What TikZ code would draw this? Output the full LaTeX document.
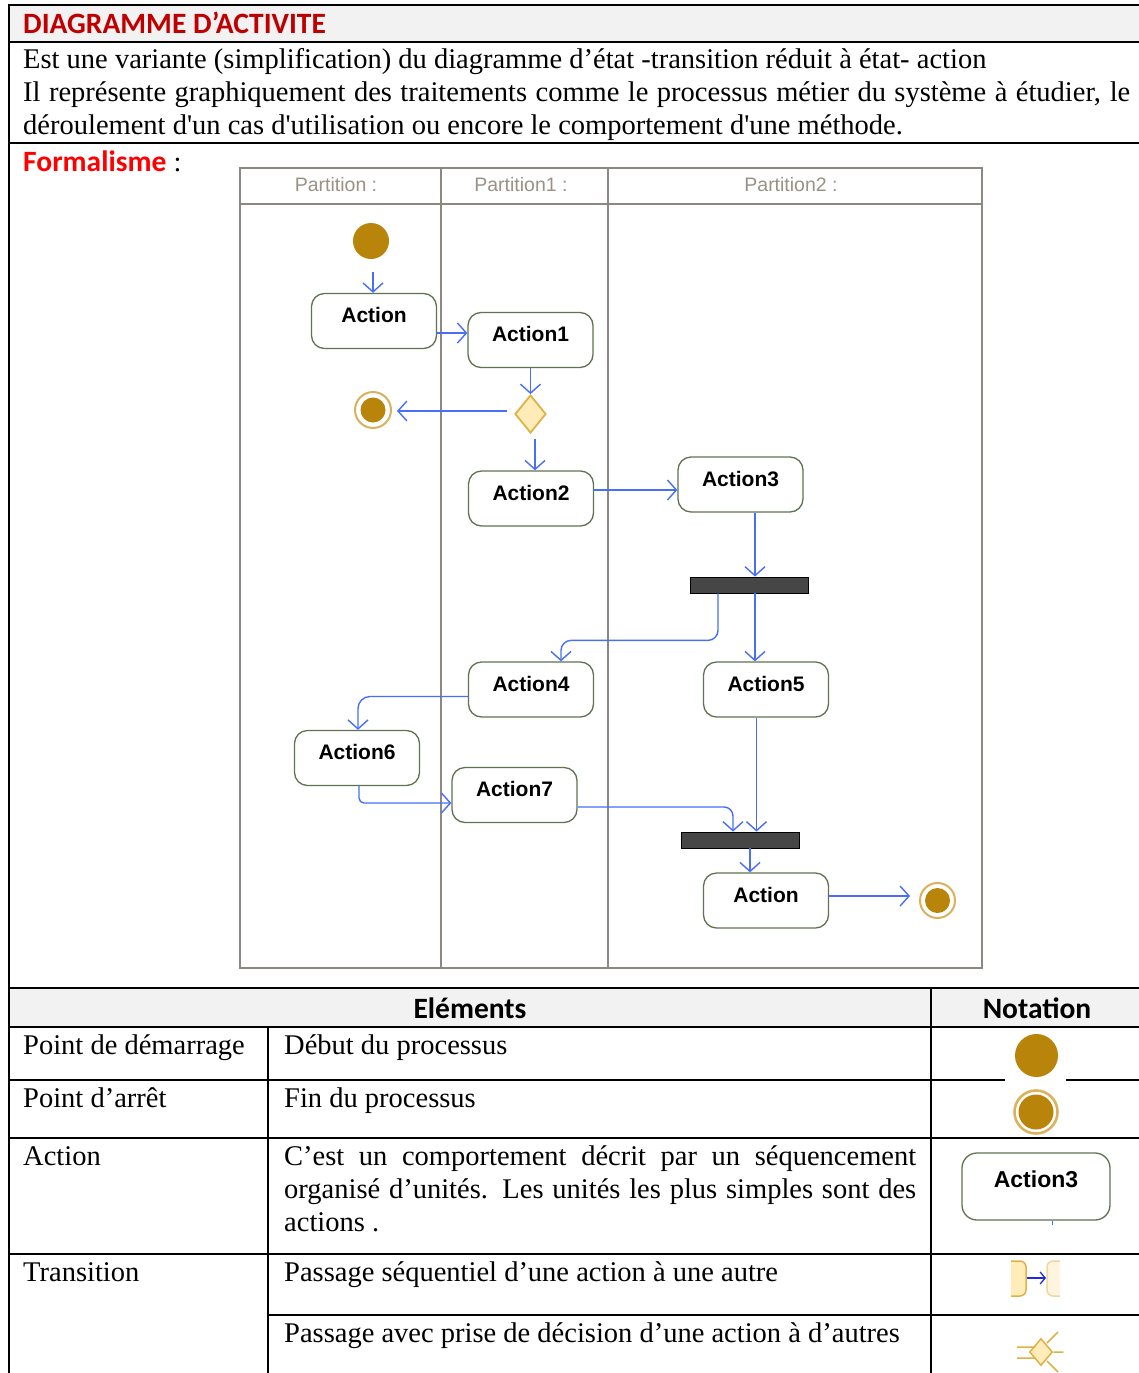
\documentclass[tikz,border=0pt]{standalone}
\usepackage{fontspec}
\setmainfont{Liberation Serif}
\newfontfamily\calibri{Carlito}
\newfontfamily\umlfont{Liberation Sans}
\usetikzlibrary{positioning,shapes.geometric,arrows.meta}

\definecolor{titlered}{RGB}{192,0,0}
\definecolor{formred}{RGB}{255,0,0}
\definecolor{rowgray}{RGB}{242,242,242}
\definecolor{flowblue}{RGB}{72,110,250}
\definecolor{darkblue}{RGB}{30,40,235}
\definecolor{boxgreen}{RGB}{95,115,80}
\definecolor{startgold}{RGB}{185,132,10}
\definecolor{ringgold}{RGB}{218,178,95}
\definecolor{diafill}{RGB}{255,236,185}
\definecolor{diaedge}{RGB}{222,178,70}
\definecolor{palefill}{RGB}{255,245,222}
\definecolor{paleedge}{RGB}{240,215,160}
\definecolor{lanegray}{RGB}{140,135,128}
\definecolor{lanetext}{RGB}{155,145,132}
\definecolor{barfill}{RGB}{70,70,70}

\begin{document}
\begin{tikzpicture}[x=1pt,y=-1pt,
  body/.style={anchor=base west, inner sep=0pt, font=\fontsize{28.5}{33}\selectfont},
  heading/.style={inner sep=0pt, font=\calibri\bfseries\fontsize{29.5}{33}\selectfont},
  gridline/.style={line width=2pt},
  thinline/.style={line width=1.3pt},
  lane/.style={draw=lanegray, line width=1.5pt},
  lanelabel/.style={text=lanetext, font=\umlfont\fontsize{19.5}{20}\selectfont},
  action/.style={draw=boxgreen, line width=1.3pt, rounded corners=13pt, fill=white,
    minimum width=125pt, minimum height=55pt, inner sep=0pt,
    font=\umlfont\bfseries\fontsize{21}{22}\selectfont,
    text height=15pt, text depth=12pt},
  startnode/.style={circle, fill=startgold, minimum size=#1, inner sep=0pt},
  startnode/.default=36pt,
  endnode/.style 2 args={circle, draw=ringgold, line width=2pt, fill=white,
    minimum size=#1, inner sep=0pt,
    path picture={\fill[startgold] (path picture bounding box.center) circle (#2);}},
  decision/.style={diamond, draw=diaedge, fill=diafill, line width=1.8pt,
    minimum width=31pt, minimum height=38pt, inner sep=0pt},
  bar/.style={draw=black, fill=barfill, line width=0.8pt,
    minimum width=118pt, minimum height=16pt, inner sep=0pt},
  flow/.style={draw=flowblue, line width=1.4pt, -{Straight Barb[length=9pt,width=20pt]}}]

% Page and bounding box
\fill[white] (0,0) rectangle (1139,1373);
\useasboundingbox (0,0) rectangle (1139,1373);

% Column positions
\def\colL{9}
\def\colA{268}
\def\colB{931}
\def\colR{1139}

% Title row background
\fill[rowgray] (\colL,5) rectangle (\colR,42);
% Table header background
\fill[rowgray] (\colL,988) rectangle (\colR,1027);

% Frame of the sheet
\draw[gridline] (\colL,1373) -- (\colL,5) -- (\colR,5);
\foreach \y in {42,143,988,1027} {
    \draw[gridline] (\colL,\y) -- (\colR,\y);
}
% Rows below the icons (broken or thinner where an icon sits)
\draw[gridline] (\colL,1080) -- (1005,1080) (1066,1080) -- (\colR,1080);
\draw[gridline] (\colL,1138) -- (960,1138) (1113,1138) -- (\colR,1138);
\draw[thinline] (960,1138) -- (1113,1138);
\draw[gridline] (\colL,1254) -- (995,1254) (1078,1254) -- (\colR,1254);
\draw[thinline] (995,1254) -- (1078,1254);
\draw[gridline] (\colA,1315) -- (995,1315) (1078,1315) -- (\colR,1315);
\draw[thinline] (995,1315) -- (1078,1315);
% Table columns
\draw[gridline] (\colA,1027) -- (\colA,1373);
\draw[gridline] (\colB,988) -- (\colB,1373);

% Title and introduction
\node[heading, anchor=base west, text=titlered] (title) at (23,33) {DIAGRAMME D’ACTIVITE};
\node[body] (intro1) at (23,68) {Est une variante (simplification) du diagramme d’état -transition réduit à état- action};
\node[body] (intro2) at (23,101) {\makebox[1107pt][s]{Il représente graphiquement des traitements comme le processus métier du système à étudier, le}};
\node[body] (intro3) at (23,134) {déroulement d\textquotesingle un cas d\textquotesingle utilisation ou encore le comportement d\textquotesingle une méthode.};
\node[body] (formal) at (23,171) {{\calibri\bfseries\fontsize{29.5}{33}\selectfont\color{formred}Formalisme} :};

% Swimlanes
\draw[lane] (240,168) rectangle (982,968);
\draw[lane] (240,204) -- (982,204);
\foreach \x in {441,608} {
    \draw[lane] (\x,168) -- (\x,968);
}
\node[lanelabel] (lane0) at (336,185) {Partition :};
\node[lanelabel] (lane1) at (521,185) {Partition1 :};
\node[lanelabel] (lane2) at (791,185) {Partition2 :};

% Activity nodes
\node[startnode] (start) at (371,241) {};
\node[action] (act) at (374,321) {Action};
\node[action] (act1) at (530.5,340) {Action1};
\node[decision] (dec) at (530.5,414) {};
\node[endnode={36pt}{12.5pt}] (stop1) at (373,410) {};
\node[action] (act2) at (531,498.5) {Action2};
\node[action] (act3) at (740.5,484.5) {Action3};
\node[bar] (fork) at (749,585) {};
\node[action] (act4) at (531,689.5) {Action4};
\node[action] (act5) at (766,689.5) {Action5};
\node[action] (act6) at (357,758) {Action6};
\node[action] (act7) at (514.5,795) {Action7};
\node[bar] (join) at (740.5,840) {};
\node[action] (actend) at (766,900.5) {Action};
\node[endnode={35pt}{12.5pt}] (stop2) at (937.5,900.5) {};

% Transitions
\draw[flow, shorten <=13pt] ([xshift=2pt]start.south) -- ([xshift=-1pt]act.north);
\coordinate (a1) at ([yshift=-12pt]act.east);
\draw[flow] (a1) -- (a1 -| act1.west);
\draw[flow] (act1.south) -- (dec.north);
\draw[flow, shorten <=7pt, shorten >=5pt] ([yshift=3pt]dec.west) -- ([yshift=-1pt]stop1.east);
\draw[flow, shorten <=5pt] ([xshift=4.5pt]dec.south) -- ([xshift=4pt]act2.north);
\draw[flow] ([yshift=8.5pt]act2.east) -- ([yshift=-5.5pt]act3.west);
\draw[flow] ([xshift=14.5pt]act3.south) -- ([xshift=6pt]fork.north);
\draw[flow] ([xshift=6pt]fork.south) -- ([xshift=-11pt]act5.north);
\draw[flow, rounded corners=10pt] ([xshift=-31pt]fork.south) -- ++(0,47) -| ([xshift=30pt]act4.north);
\draw[flow, rounded corners=12pt] ([yshift=-7pt]act4.west) -| ([xshift=1pt]act6.north);
\draw[flow, rounded corners=5pt] ([xshift=2pt]act6.south) |- ([yshift=-8pt]act7.west);
\draw[flow, rounded corners=9pt] ([yshift=-12pt]act7.east) -| ([xshift=-7.5pt]join.north);
\draw[flow] ([xshift=-9.5pt]act5.south) -- ([xshift=16pt]join.north);
\draw[flow] ([xshift=9.5pt]join.south) -- ([xshift=-16pt]actend.north);
\draw[flow, shorten >=9pt] ([yshift=4.5pt]actend.east) -- ([yshift=4.5pt]stop2.west);

% Table header
\node[heading] (elem) at (470,1008) {Eléments};
\node[heading] (notat) at (1037,1008) {Notation};

% Table rows
\node[body] (name1) at (23,1054) {Point de démarrage};
\node[body] (desc1) at (284,1054) {Début du processus};
\node[body] (name2) at (23,1107) {Point d’arrêt};
\node[body] (desc2) at (284,1107) {Fin du processus};
\node[body] (name3) at (23,1165) {Action};
\node[body] (desc3a) at (284,1165) {\makebox[632pt][s]{C’est un comportement décrit par un séquencement}};
\node[body] (desc3b) at (284,1198) {\makebox[632pt][s]{organisé d’unités.  Les unités les plus simples sont des}};
\node[body] (desc3c) at (284,1231) {actions .};
\node[body] (name4) at (23,1281) {Transition};
\node[body] (desc4a) at (284,1281) {Passage séquentiel d’une action à une autre};
\node[body] (desc4b) at (284,1342) {Passage avec prise de décision d’une action à d’autres};

% Notation icons
\node[startnode=43pt] (startsym) at (1036.5,1055.5) {};
\node[endnode={43pt}{17.5pt}, line width=2.6pt] (stopsym) at (1036,1112) {};
\node[action, minimum width=148pt, minimum height=67pt, rounded corners=15pt,
      font=\umlfont\bfseries\fontsize{23}{24}\selectfont,
      text height=16.5pt, text depth=15pt] (actsym) at (1036,1186.5) {Action3};
\draw[flowblue, line width=1pt] ([xshift=16pt]actsym.south) -- ++(0,4);

% Sequential transition icon
\draw[diaedge, fill=diafill, line width=1.5pt, rounded corners=6pt]
    (1011,1261) -- (1026,1261) -- (1026,1296) -- (1011,1296);
\draw[paleedge, fill=palefill, line width=1.5pt, rounded corners=6pt]
    (1060,1261) -- (1047,1261) -- (1047,1296) -- (1060,1296);
\coordinate (trsrc) at (1027,1278);
\coordinate (trdst) at (1046,1278);
\draw[darkblue, line width=1.3pt, -{Straight Barb[length=5pt,width=12pt]}] (trsrc) -- (trdst);

% Decision icon
\node[decision, minimum width=23pt, minimum height=27pt, line width=1.5pt] (decsym) at (1041,1352) {};
\draw[diaedge, line width=1.5pt]
    (1017,1347) -- (1035,1347)
    (1017,1358) -- (1035,1358)
    (decsym.east) -- ++(10,0)
    (1047,1343) -- (1058,1332)
    (1047,1361) -- (1058,1372);

\end{tikzpicture}
\end{document}
